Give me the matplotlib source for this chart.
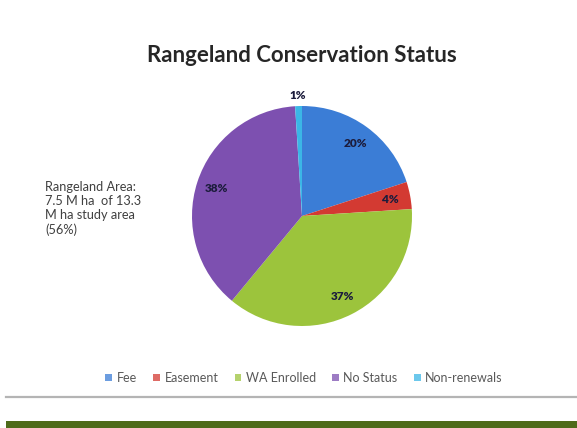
import matplotlib.pyplot as plt
import matplotlib.patches as mpatches
import numpy as np

# conservation status shares (percent of rangeland area)
categories = ['Fee', 'Easement', 'WA Enrolled', 'No Status', 'Non-renewals']
shares = [20, 4, 37, 38, 1]
colors = ['#3b7dd6', '#d33a32', '#9cc43c', '#7d50b0', '#3bb6e6']
note = 'Rangeland Area:\n7.5 M ha  of 13.3\nM ha study area\n(56%)'

plt.rcParams['font.family'] = ['Lato', 'DejaVu Sans']

fig = plt.figure(figsize=(5.77, 4.28), dpi=100)
W, H = 577.0, 428.0

# pie axes placed in pixel terms: centre ~(302, 216), radius ~110
cx, cy, r = 302, 216, 110
ax = fig.add_axes([(cx - r) / W, 1 - (cy + r) / H, 2 * r / W, 2 * r / H])
wedges, texts, autotexts = ax.pie(
    shares, colors=colors, startangle=90, counterclock=False,
    autopct='%d%%', pctdistance=0.82, radius=1.0,
    wedgeprops=dict(linewidth=0),
    textprops=dict(fontsize=8.5, fontweight='heavy', color='#1c1c3c'))
ax.set_xlim(-1, 1)
ax.set_ylim(-1, 1)

# the tiny slice gets its label outside the pie
small = autotexts[-1]
x, y = small.get_position()
ang = np.arctan2(y, x)
small.set_position((1.1 * np.cos(ang), 1.1 * np.sin(ang)))

fig.text(cx / W, 1 - 56 / H, 'Rangeland Conservation Status',
         ha='center', va='center', fontsize=16, fontweight='bold', color='#262626')

fig.text(45 / W, 1 - 181 / H, note, ha='left', va='top', fontsize=9.2,
         color='#404040', linespacing=1.2)

handles = [mpatches.Patch(facecolor=c, alpha=0.75, linewidth=0) for c in colors]
fig.legend(handles, categories, loc='center', bbox_to_anchor=(304 / W, 1 - 378 / H),
           ncol=5, frameon=False, fontsize=9, handlelength=0.55, handleheight=0.55,
           handletextpad=0.35, columnspacing=1.3, labelcolor='#595959')

# separator rule and green footer band
fig.add_artist(plt.Line2D([6 / W, 1], [1 - 397 / H, 1 - 397 / H], color='#b4b4b4', lw=1.6))
fig.add_artist(mpatches.Rectangle((6 / W, 0), 1, 7 / H, transform=fig.transFigure,
                                  facecolor='#4e6b1a', edgecolor='none'))

fig.savefig('out.png', dpi=100)
